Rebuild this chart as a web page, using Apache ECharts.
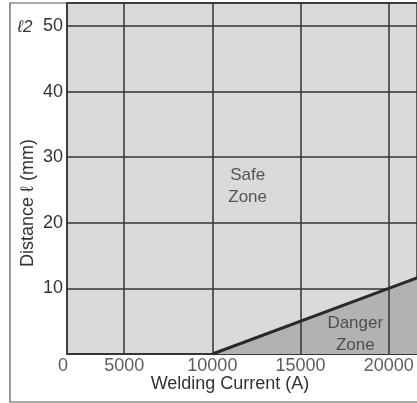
<!DOCTYPE html>
<html>
<head>
<meta charset="utf-8">
<script src="https://cdn.jsdelivr.net/npm/echarts@6/dist/echarts.min.js"></script>
<style>
html, body { margin: 0; padding: 0; background: #fff; }
#chart { width: 417px; height: 403px; }
</style>
</head>
<body>
<div id="chart"></div>
<script>
// 数据
var xTicks = [0, 5000, 10000, 15000, 20000]
var yTicks = [10, 20, 30, 40, 50]
var limitCurrent = [10000, 20000, 23000] // 焊接电流 (A)
var limitDistance = [0, 10, 13] // 安全距离 (mm)
var zoneNames = ['Safe\nZone', 'Danger\nZone']
var zonePos = [[12000, 25.6], [18100, 3.0]]

// 常量
var ink = '#333'
var font = 'Liberation Sans, Arial, sans-serif'
var xMin = 1760 // 原图 0-5000 段被压缩, 轴起点按图上位置取
var xMax = 21600
var yMax = 53.5

var chart = echarts.init(document.getElementById('chart'))
var option = {
    animation: false,
    backgroundColor: '#fff',
    grid: {
        left: 67,
        right: 0,
        top: 3,
        bottom: 49,
        show: true,
        backgroundColor: '#dadada',
        borderColor: ink,
        borderWidth: 1.5
    },
    xAxis: {
        type: 'value',
        min: xMin,
        max: xMax,
        axisLine: { show: true, lineStyle: { color: ink, width: 1.5 } },
        axisTick: { show: false },
        splitLine: { show: false },
        axisLabel: { show: false }
    },
    yAxis: {
        type: 'value',
        min: 0,
        max: yMax,
        interval: 10,
        axisLine: { show: true, lineStyle: { color: ink, width: 1.5 } },
        axisTick: { show: false },
        splitLine: { show: true, lineStyle: { color: ink, width: 1.5 } },
        axisLabel: {
            color: ink,
            fontSize: 18,
            fontFamily: font,
            margin: 4,
            showMaxLabel: false,
            formatter: function (v) {
                return yTicks.indexOf(v) >= 0 ? String(v) : ''
            }
        }
    },
    series: [
        {
            // 竖向网格线
            type: 'scatter',
            symbolSize: 0,
            silent: true,
            data: [],
            markLine: {
                silent: true,
                symbol: 'none',
                label: { show: false },
                lineStyle: { color: ink, width: 1.5, type: 'solid' },
                data: xTicks.filter(v => v > xMin).map(v => ({ xAxis: v }))
            }
        },
        {
            // 横轴刻度文字
            type: 'scatter',
            symbolSize: 0,
            silent: true,
            label: {
                show: true,
                position: 'inside',
                offset: [0, 12],
                color: ink,
                fontSize: 18,
                fontFamily: font,
                formatter: function (p) { return p.data.name }
            },
            data: xTicks.map(v => ({ value: [Math.max(v, xMin), 0], name: String(v), label: v === 0 ? { offset: [-4, 12] } : {} }))
        },
        {
            // 危险区分界线
            type: 'line',
            symbol: 'none',
            clip: true,
            lineStyle: { color: '#2a2a2a', width: 3 },
            areaStyle: { color: '#b2b2b2', opacity: 1 },
            data: limitCurrent.map((c, i) => [c, limitDistance[i]]),
            z: 1
        },
        {
            type: 'scatter',
            symbolSize: 0,
            silent: true,
            label: {
                show: true,
                position: 'inside',
                color: ink,
                fontSize: 17,
                lineHeight: 22,
                fontFamily: font,
                formatter: function (p) { return p.data.name }
            },
            data: zoneNames.map((n, i) => ({ value: zonePos[i], name: n }))
        }
    ],
    graphic: [
        {
            type: 'rect',
            shape: { x: 10, y: 3, width: 420, height: 399 },
            style: { fill: 'none', stroke: '#555', lineWidth: 1.2 },
            silent: true
        },
        {
            type: 'text',
            x: 25, y: 27,
            style: { text: 'ℓ2', font: 'italic 17px ' + font, fill: ink, align: 'center', verticalAlign: 'middle' }
        },
        {
            type: 'text',
            x: 28, y: 203,
            rotation: Math.PI / 2,
            style: { text: 'Distance ℓ (mm)', font: '18px ' + font, fill: ink, align: 'center', verticalAlign: 'middle' }
        },
        {
            type: 'text',
            x: 230, y: 384,
            style: { text: 'Welding Current (A)', font: '18px ' + font, fill: ink, align: 'center', verticalAlign: 'middle' }
        }
    ]
}
chart.setOption(option)
</script>
</body>
</html>
